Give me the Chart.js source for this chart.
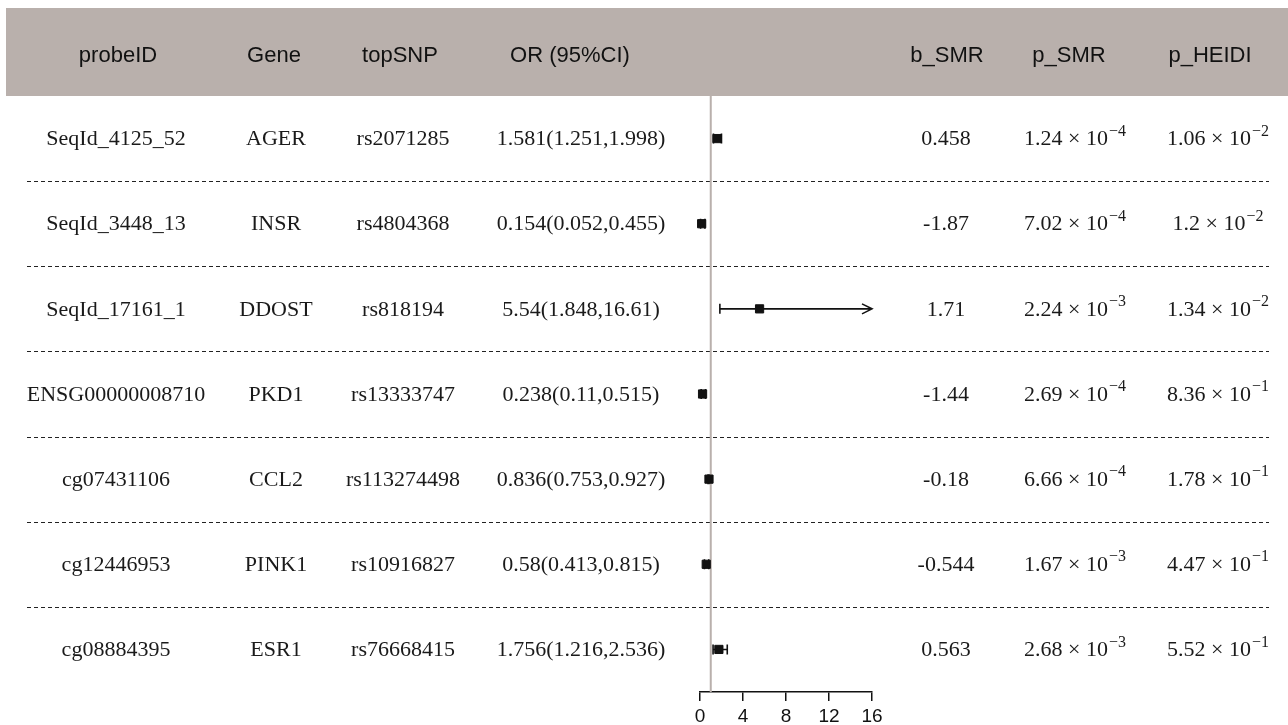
<!DOCTYPE html>
<html>
<head>
<meta charset="utf-8">
<script src="https://cdn.jsdelivr.net/npm/chart.js@4.4.1/dist/chart.umd.min.js"></script>
<style>
  html, body { margin: 0; padding: 0; background: #fff; }
  canvas { display: block; }
</style>
</head>
<body>
<canvas id="forestChart" width="1288" height="725"></canvas>
<script>
// table data, one entry per row
const probeIDs = ['SeqId_4125_52', 'SeqId_3448_13', 'SeqId_17161_1', 'ENSG00000008710', 'cg07431106', 'cg12446953', 'cg08884395'];
const genes = ['AGER', 'INSR', 'DDOST', 'PKD1', 'CCL2', 'PINK1', 'ESR1'];
const topSNPs = ['rs2071285', 'rs4804368', 'rs818194', 'rs13333747', 'rs113274498', 'rs10916827', 'rs76668415'];
const orValues = [1.581, 0.154, 5.54, 0.238, 0.836, 0.58, 1.756];
const ciLow = [1.251, 0.052, 1.848, 0.11, 0.753, 0.413, 1.216];
const ciHigh = [1.998, 0.455, 16.61, 0.515, 0.927, 0.815, 2.536];
const bSMR = [0.458, -1.87, 1.71, -1.44, -0.18, -0.544, 0.563];
const pSMR = [1.24e-4, 7.02e-4, 2.24e-3, 2.69e-4, 6.66e-4, 1.67e-3, 2.68e-3];
const pHEIDI = [1.06e-2, 1.2e-2, 1.34e-2, 8.36e-1, 1.78e-1, 4.47e-1, 5.52e-1];
const headers = ['probeID', 'Gene', 'topSNP', 'OR (95%CI)', 'b_SMR', 'p_SMR', 'p_HEIDI'];
const xTicks = [0, 4, 8, 12, 16];

// layout: column centres for header and body text
const headerX = [118, 274, 400, 570, 947, 1069, 1210];
const bodyX = [116, 276, 403, 581, 946, 1075, 1218];
const bandColor = '#b9b0ac';
const serif = '"Liberation Serif", "DejaVu Serif", serif';
const sans = '"Liberation Sans", Arial, sans-serif';

// draw "1.24 × 10^-4" centred on x
function drawSci(ctx, value, x, y) {
  const [mant, exp] = value.toExponential().split('e');
  const base = mant + ' \u00d7 10';
  const sup = exp.replace('-', '\u2212').replace('+', '');
  ctx.font = '22px ' + serif;
  const wb = ctx.measureText(base).width;
  ctx.font = '16px ' + serif;
  const ws = ctx.measureText(sup).width;
  const left = x - (wb + ws + 1) / 2;
  ctx.textAlign = 'left';
  ctx.font = '22px ' + serif;
  ctx.fillText(base, left, y);
  ctx.font = '16px ' + serif;
  ctx.fillText(sup, left + wb + 1, y - 8);
}

const tablePlugin = {
  id: 'tablePlugin',
  beforeDraw(chart) {
    const { ctx, width } = chart;
    ctx.save();
    ctx.fillStyle = '#fff';
    ctx.fillRect(0, 0, width, chart.height);
    ctx.fillStyle = bandColor;
    ctx.fillRect(6, 8, width - 6, chart.chartArea.top - 8);
    ctx.fillStyle = '#111';
    ctx.font = '22px ' + sans;
    ctx.textAlign = 'center';
    ctx.textBaseline = 'middle';
    headers.forEach((h, i) => ctx.fillText(h, headerX[i], 56));
    ctx.restore();
  },
  beforeDatasetsDraw(chart) {
    const { ctx } = chart;
    const xs = chart.scales.x, ys = chart.scales.y;
    ctx.save();
    // dashed row separators
    ctx.strokeStyle = '#222';
    ctx.lineWidth = 1.2;
    ctx.setLineDash([4, 3]);
    for (let i = 1; i < probeIDs.length; i++) {
      const y = Math.round(ys.getPixelForValue(i + 0.5)) + 0.5;
      ctx.beginPath();
      ctx.moveTo(27, y);
      ctx.lineTo(1269, y);
      ctx.stroke();
    }
    ctx.setLineDash([]);
    // confidence intervals
    ctx.strokeStyle = '#111';
    ctx.lineWidth = 1.6;
    orValues.forEach((v, i) => {
      const y = ys.getPixelForValue(i + 1);
      const x1 = xs.getPixelForValue(Math.max(ciLow[i], xs.min));
      const x2 = xs.getPixelForValue(Math.min(ciHigh[i], xs.max));
      ctx.beginPath();
      ctx.moveTo(x1, y);
      ctx.lineTo(x2, y);
      ctx.moveTo(x1, y - 5);
      ctx.lineTo(x1, y + 5);
      if (ciHigh[i] > xs.max) {
        ctx.moveTo(x2 - 10, y - 5);
        ctx.lineTo(x2, y);
        ctx.lineTo(x2 - 10, y + 5);
      } else {
        ctx.moveTo(x2, y - 5);
        ctx.lineTo(x2, y + 5);
      }
      ctx.stroke();
    });
    ctx.restore();
  },
  afterDraw(chart) {
    const { ctx } = chart;
    const ys = chart.scales.y;
    ctx.save();
    ctx.fillStyle = '#1a1a1a';
    ctx.textBaseline = 'middle';
    probeIDs.forEach((p, i) => {
      const y = ys.getPixelForValue(i + 1) + 1;
      ctx.font = '22px ' + serif;
      ctx.textAlign = 'center';
      ctx.fillText(p, bodyX[0], y);
      ctx.fillText(genes[i], bodyX[1], y);
      ctx.fillText(topSNPs[i], bodyX[2], y);
      ctx.fillText(`${orValues[i]}(${ciLow[i]},${ciHigh[i]})`, bodyX[3], y);
      ctx.fillText(String(bSMR[i]), bodyX[4], y);
      drawSci(ctx, pSMR[i], bodyX[5], y);
      drawSci(ctx, pHEIDI[i], bodyX[6], y);
    });
    ctx.restore();
  }
};

const ctx = document.getElementById('forestChart').getContext('2d');
const forestChart = new Chart(ctx, {
  type: 'scatter',
  data: {
    datasets: [
      {
        label: 'OR',
        data: orValues.map((v, i) => ({ x: v, y: i + 1 })),
        pointStyle: 'rect',
        pointRadius: 5.8,
        backgroundColor: '#111',
        borderColor: '#111',
        borderWidth: 1,
        clip: false,
        order: 0
      },
      {
        type: 'line',
        label: 'OR = 1',
        data: [{ x: 1, y: 0.5 }, { x: 1, y: 7.5 }],
        borderColor: bandColor,
        borderWidth: 2,
        pointRadius: 0,
        clip: false,
        order: 2
      }
    ]
  },
  options: {
    responsive: false,
    animation: false,
    devicePixelRatio: 1,
    layout: { padding: { left: 700, right: 416, top: 96, bottom: 0 } },
    scales: {
      x: {
        type: 'linear',
        min: 0,
        max: 16,
        afterBuildTicks: scale => { scale.ticks = xTicks.map(v => ({ value: v })); },
        afterFit: scale => { scale.height = 33; },
        ticks: {
          color: '#111',
          padding: 4,
          maxRotation: 0,
          font: { family: sans, size: 19 }
        },
        grid: {
          drawOnChartArea: false,
          drawTicks: true,
          tickLength: 9,
          color: '#111',
          lineWidth: 1.5
        },
        border: { display: true, color: '#111', width: 1.5 }
      },
      y: {
        type: 'linear',
        min: 0.5,
        max: 7.5,
        reverse: true,
        display: false
      }
    },
    plugins: {
      legend: { display: false },
      tooltip: { enabled: false }
    }
  },
  plugins: [tablePlugin]
});
</script>
</body>
</html>
